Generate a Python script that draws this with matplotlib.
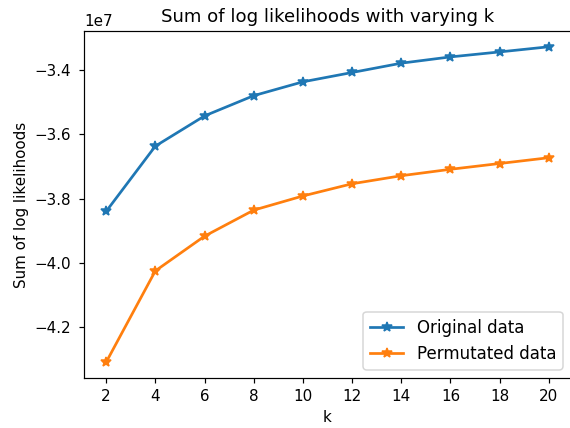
import numpy as np
import matplotlib
matplotlib.use("Agg")
import matplotlib.pyplot as plt

k = [2, 4, 6, 8, 10, 12, 14, 16, 18, 20]
original = [-3.840, -3.637, -3.543, -3.480, -3.437, -3.408, -3.379, -3.3595, -3.344, -3.328]
permutated = [-4.309, -4.025, -3.917, -3.836, -3.792, -3.754, -3.729, -3.709, -3.691, -3.673]

original = np.array(original) * 1e7
permutated = np.array(permutated) * 1e7

dpi = 108.6
fig = plt.figure(figsize=(570 / dpi, 428 / dpi), dpi=dpi)
ax = fig.add_axes([84 / 570, 1 - 378 / 428, 487 / 570, 347 / 428])
ax.plot(k, original, "*-", linewidth=1.8, markersize=7, label="Original data")
ax.plot(k, permutated, "*-", linewidth=1.8, markersize=7, label="Permutated data")
ax.set_xticks(k)
ax.tick_params(axis="y", pad=5)
ax.set_xlabel("k")
ax.set_ylabel("Sum of log likelihoods")
ax.set_title("Sum of log likelihoods with varying k")
ax.legend(loc="lower right", fontsize=11)
fig.savefig("out.png", dpi=dpi)
